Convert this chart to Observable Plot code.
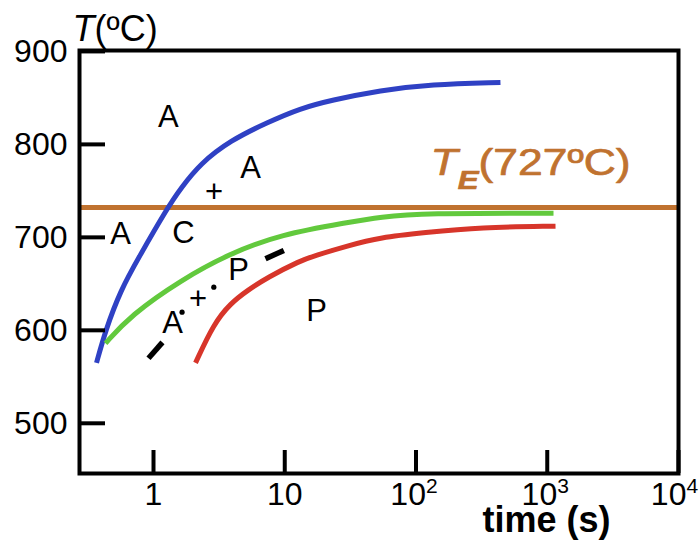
<!DOCTYPE html>
<html><head><meta charset="utf-8">
<script src="https://cdn.jsdelivr.net/npm/d3@7"></script>
<script src="https://cdn.jsdelivr.net/npm/@observablehq/plot@0.6"></script>
<style>
html,body{margin:0;padding:0;background:#fff;}
</style>
</head><body><div id="chart"></div>
<script>
// ---- data ----
const blueTime = [0.368, 0.431, 0.561, 0.769, 1.28, 1.61, 2.28, 3.86, 7.39, 13.2, 22.3, 53.7, 129, 440];
const blueTemp = [565, 600, 643, 678, 732, 752.6, 779.5, 804.3, 823.7, 838.8, 847.4, 858.2, 864.6, 866.7];
const greenTime = [0.431, 0.668, 1.61, 3.86, 9.29, 30.1, 53.7, 114, 1116];
const greenTemp = [586, 616, 654, 683, 703, 716, 722, 726, 726];
const redTime = [2.09, 2.87, 3.86, 5.2, 7.39, 13.2, 16.6, 30.1, 53.7, 114, 310, 1156];
const redTemp = [565, 607, 629, 643, 657, 675, 680, 691, 700, 705, 711, 712];
const dashTime = [[0.916, 1.17], [7.13, 9.84]];
const dashTemp = [[570, 587], [677, 686]];
const dotTime = [1.65, 2.88];
const dotTemp = [619.5, 646.4];
const labelText = ["A", "A", "+", "A", "C", "A", "+", "P", "P"];
const labelTime = [1.30, 5.49, 2.89, 0.561, 1.69, 1.40, 2.18, 4.44, 17.5];
const labelTemp = [829, 774, 749, 704, 705, 608, 634, 665, 621];
const teTemp = 732;
const teText = "TE(727ºC)";
const teLabelTime = 129;
const teLabelTemp = 767;
const xTicks = [1, 10, 100, 1000, 10000];
const xTickLabels = ["1", "10", "10^2", "10^3", "10^4"];
const yTicks = [500, 600, 700, 800, 900];
const yLabel = "T(ºC)";
const xLabel = "time (s)";
const seriesNames = ["s1", "s2", "s3"];
const seriesColors = ["#2f41c4", "#62c93d", "#d7352a"];
const brown = "#c0722f";

// ---- build tables ----
const W = 699, H = 545;
const mL = 79, mR = 21, mT = 50, mB = 72;
const innerW = W - mL - mR, innerH = H - mT - mB;
const allT = [blueTime, greenTime, redTime], allV = [blueTemp, greenTemp, redTemp];
const lineData = seriesNames.flatMap((s, k) => allT[k].map((t, i) => ({s, t, T: allV[k][i]})));
const dashData = dashTime.flatMap((seg, k) => seg.map((t, i) => ({k, t, T: dashTemp[k][i]})));
const dotData = dotTime.map((t, i) => ({t, T: dotTemp[i]}));
const labels = labelText.map((text, i) => ({text, t: labelTime[i], T: labelTemp[i]}));

const svg = Plot.plot({
  width: W, height: H,
  marginLeft: mL, marginRight: mR, marginTop: mT, marginBottom: mB,
  style: {fontFamily: "'Liberation Sans', Arial, sans-serif", background: "white", overflow: "visible"},
  x: {type: "log", domain: [0.273, 10000]},
  y: {domain: [446, 901]},
  color: {domain: seriesNames, range: seriesColors},
  marks: [
    Plot.ruleY([teTemp], {stroke: brown, strokeWidth: 5}),
    Plot.line(lineData, {x: "t", y: "T", z: "s", stroke: "s", strokeWidth: 5, curve: "basis", strokeLinecap: "butt"}),
    Plot.line(dashData, {x: "t", y: "T", z: "k", stroke: "black", strokeWidth: 5.5, strokeLinecap: "butt"}),
    Plot.dot(dotData, {x: "t", y: "T", r: 2.6, fill: "black"}),
    Plot.text(labels, {x: "t", y: "T", text: "text", fontSize: 31, fill: "black"}),
    Plot.text([{t: teLabelTime, T: teLabelTemp, text: teText}], {x: "t", y: "T", text: "text", textAnchor: "start", lineAnchor: "bottom", fontSize: 37, fill: brown, stroke: brown, strokeWidth: 0.7}),
    Plot.tickY(yTicks, {y: d => d, insetRight: innerW - 26, stroke: "black", strokeWidth: 4}),
    Plot.tickX(xTicks, {x: d => d, insetTop: innerH - 23, stroke: "black", strokeWidth: 4}),
    Plot.frame({stroke: "black", strokeWidth: 4}),
    Plot.axisY({ticks: yTicks, tickSize: 0, tickPadding: 12, fontSize: 32, label: null}),
    Plot.axisX({ticks: xTicks, tickSize: 0, tickPadding: 9, fontSize: 32, label: null, tickFormat: d => xTickLabels[xTicks.indexOf(d)]}),
    Plot.text([yLabel], {frameAnchor: "top-left", textAnchor: "start", lineAnchor: "bottom", dx: -7, dy: -10, fontSize: 36}),
    Plot.text([xLabel], {frameAnchor: "bottom", dx: 167.5, dy: 58, lineAnchor: "bottom", fontSize: 36, fontWeight: "bold"})
  ]
});

const NS = "http://www.w3.org/2000/svg";
function fill(el, parts) {
  el.textContent = "";
  for (const p of parts) {
    const ts = document.createElementNS(NS, "tspan");
    ts.textContent = p.text;
    if (p.italic) ts.setAttribute("font-style", "italic");
    if (p.bold) ts.setAttribute("font-weight", "bold");
    if (p.size) ts.setAttribute("font-size", p.size);
    if (p.dy) ts.setAttribute("dy", p.dy);
    el.appendChild(ts);
  }
}
function rebuild(root, content, parts, textLength) {
  const el = Array.from(root.querySelectorAll("text")).find(e => e.textContent === content);
  if (!el) return;
  fill(el, parts);
  if (textLength) {
    el.setAttribute("textLength", textLength);
    el.setAttribute("lengthAdjust", "spacingAndGlyphs");
  }
}
rebuild(svg, yLabel, [{text: "T", italic: true}, {text: "(ºC)"}]);
rebuild(svg, teText, [{text: "T", italic: true}, {text: "E", italic: true, bold: true, size: 26, dy: 14}, {text: "(727ºC)", dy: -14}], 200);
// superscript exponents on the x tick labels
for (const el of svg.querySelectorAll("text")) {
  const s = el.textContent;
  if (xTickLabels.includes(s) && s.includes("^")) {
    const [base, exp] = s.split("^");
    fill(el, [{text: base}, {text: exp, size: 21, dy: -12}]);
    el.setAttribute("dx", exp === "4" ? "-4" : "-2");
  }
}

document.getElementById("chart").appendChild(svg);
</script>
</body></html>
